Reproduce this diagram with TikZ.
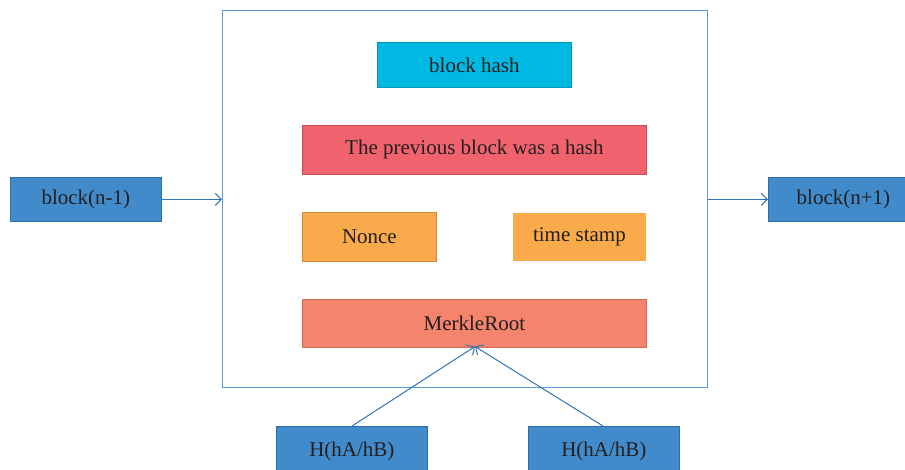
\documentclass[tikz,border=0pt]{standalone}
\usepackage{fontspec}
\setmainfont{Liberation Serif}
\usetikzlibrary{arrows.meta}
\definecolor{bblue}{HTML}{428BCA}
\definecolor{bblueD}{HTML}{2E6EA8}
\definecolor{frameC}{HTML}{5B9BD5}
\definecolor{cyanF}{HTML}{00B9E2}
\definecolor{cyanD}{HTML}{0095BB}
\definecolor{redF}{HTML}{F0626D}
\definecolor{redD}{HTML}{C9505A}
\definecolor{orF}{HTML}{F9AA4B}
\definecolor{orD}{HTML}{D48A38}
\definecolor{salF}{HTML}{F4846C}
\definecolor{salD}{HTML}{D06A55}
\definecolor{txt}{HTML}{231F20}
\definecolor{lineC}{HTML}{2E75B6}
\tikzset{
  box/.style={draw, line width=0.8pt, minimum height=44pt, text=txt,
    font=\fontsize{21}{25}\selectfont, inner sep=0pt, anchor=north west},
  bluebox/.style={box, fill=bblue, draw=bblueD},
  conn/.style={draw=lineC, line width=1pt, -{Straight Barb[length=6pt,width=12pt]}},
}
\begin{document}
\begin{tikzpicture}[x=1pt,y=-1pt]
\useasboundingbox (0,0) rectangle (905,469);
\node[draw=frameC, line width=1pt, minimum width=485pt, minimum height=377pt, inner sep=0pt, anchor=north west] (frame) at (222,10) {};
\node[box, fill=cyanF, draw=cyanD, minimum width=194pt, minimum height=45pt] (hash) at (377,42) {block hash};
\node[box, fill=redF, draw=redD, minimum width=344pt, minimum height=49pt] (prev) at (302,125) {The previous block was a hash};
\node[box, fill=orF, draw=orD, minimum width=134pt, minimum height=49pt] (nonce) at (302,212) {Nonce};
\node[box, fill=orF, draw=orF, minimum width=132pt, minimum height=47pt] (time) at (513,213) {time stamp};
\node[box, fill=salF, draw=salD, minimum width=344pt, minimum height=48pt] (merkle) at (302,298.5) {MerkleRoot};
\node[bluebox, minimum width=151pt, minimum height=44pt] (prevb) at (10,177) {block(n-1)};
\node[bluebox, minimum width=150pt, minimum height=44pt] (nextb) at (768,177) {block(n+1)};
\node[bluebox, minimum width=151pt, minimum height=50pt] (ha) at (276,426) {\raisebox{-4pt}{H(hA/hB)}};
\node[bluebox, minimum width=151pt, minimum height=50pt] (hb) at (528,426) {\raisebox{-4pt}{H(hA/hB)}};
\coordinate (mtip) at (475,346.5);
\coordinate (haS) at (352,426);
\coordinate (hbS) at (603,426);
\draw[conn] (prevb.east) -- (prevb.east -| frame.west);
\draw[conn] (frame.east |- nextb.west) -- (nextb.west);
\draw[conn] (haS) -- (mtip);
\draw[conn] (hbS) -- (mtip);
\end{tikzpicture}
\end{document}
